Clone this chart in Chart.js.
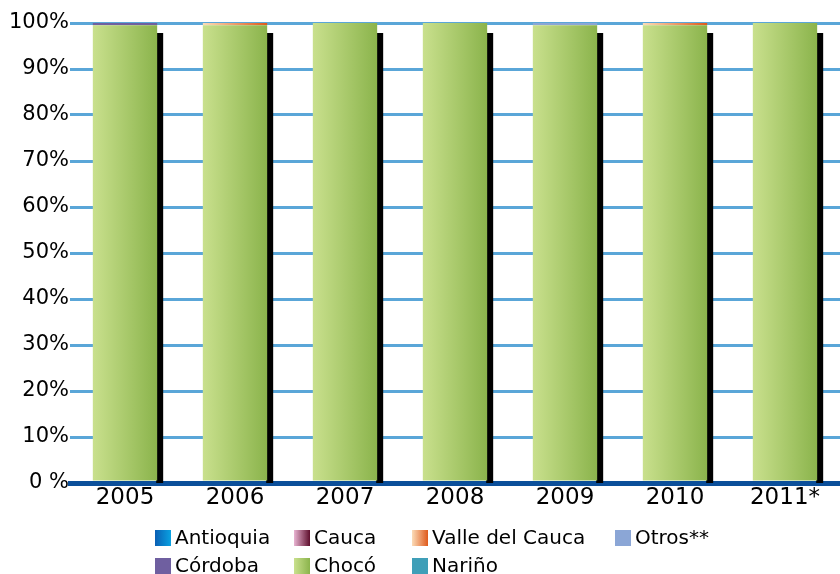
<!DOCTYPE html>
<html>
<head>
<meta charset="utf-8">
<script src="https://cdn.jsdelivr.net/npm/chart.js@4"></script>
<style>
  html, body { margin: 0; padding: 0; background: #fff; }
  #wrap { width: 840px; height: 574px; position: relative; }
</style>
</head>
<body>
<div id="wrap"><canvas id="shareChart"></canvas></div>
<script>
// Participación por departamento (%), 2005 - 2011*
const years = ['2005', '2006', '2007', '2008', '2009', '2010', '2011*'];
const yTickLabels = ['0 %', '10%', '20%', '30%', '40%', '50%', '60%', '70%', '80%', '90%', '100%'];

const choco       = [99.5, 99.5, 100, 100, 99.5, 99.5, 100];
const cordoba     = [0.5, 0, 0, 0, 0, 0, 0];
const valleCauca  = [0, 0.5, 0, 0, 0, 0.5, 0];
const otros       = [0, 0, 0, 0, 0.5, 0, 0];
const antioquia   = [0, 0, 0, 0, 0, 0, 0];
const cauca       = [0, 0, 0, 0, 0, 0, 0];
const narino      = [0, 0, 0, 0, 0, 0, 0];

const legendOrder = ['Antioquia', 'Cauca', 'Valle del Cauca', 'Otros**', 'Córdoba', 'Chocó', 'Nariño'];

const BAR_PCT = 0.585;
const FONT = '"DejaVu Sans", sans-serif';

// colour pairs: left -> right of a horizontal gradient
const palette = {
    'Antioquia':       ['#0a5fb4', '#0aa2e2'],
    'Cauca':           ['#e8b4d2', '#5e0e2c'],
    'Valle del Cauca': ['#fbdcb8', '#df5a1c'],
    'Otros**':         ['#8ba6d6', '#8ba6d6'],
    'Córdoba':         ['#6f5fa0', '#6f5fa0'],
    'Chocó':           ['#c9e08d', '#8bb44c'],
    'Nariño':          ['#3f9fb8', '#3f9fb8']
};

function barFill(name) {
    const [c0, c1] = palette[name];
    return ctx => {
        const chart = ctx.chart;
        const xs = chart.scales.x;
        if (!chart.chartArea || !xs || ctx.dataIndex === undefined) return c1;
        const cx = xs.getPixelForValue(ctx.dataIndex);
        const half = xs.width / years.length * BAR_PCT / 2;
        const g = chart.ctx.createLinearGradient(cx - half, 0, cx + half, 0);
        g.addColorStop(0, c0);
        g.addColorStop(1, c1);
        return g;
    };
}

// stacking order, bottom to top
const series = [
    ['Chocó', choco],
    ['Córdoba', cordoba],
    ['Valle del Cauca', valleCauca],
    ['Otros**', otros],
    ['Antioquia', antioquia],
    ['Cauca', cauca],
    ['Nariño', narino]
];

const shadowPlugin = {
    id: 'barShadow',
    beforeDatasetsDraw(chart) {
        const { ctx, chartArea, scales: { x, y } } = chart;
        const half = x.width / years.length * BAR_PCT / 2;
        const top = y.getPixelForValue(100) + 10;
        ctx.save();
        ctx.fillStyle = '#000';
        years.forEach((_, i) => {
            const cx = x.getPixelForValue(i);
            ctx.fillRect(cx + half - 1, top, 7, chartArea.bottom - top);
        });
        ctx.restore();
    }
};

const legendPlugin = {
    id: 'gridLegend',
    afterDraw(chart) {
        const { ctx } = chart;
        const cols = [155, 294, 412, 615];
        const rows = [538, 566];
        ctx.save();
        ctx.font = '20px ' + FONT;
        ctx.textBaseline = 'middle';
        legendOrder.forEach((name, i) => {
            const bx = cols[i % 4];
            const by = rows[Math.floor(i / 4)];
            const [c0, c1] = palette[name];
            const g = ctx.createLinearGradient(bx, 0, bx + 16, 0);
            g.addColorStop(0, c0);
            g.addColorStop(1, c1);
            ctx.fillStyle = g;
            ctx.fillRect(bx, by - 8, 16, 16);
            ctx.fillStyle = '#000';
            ctx.fillText(name, bx + 20, by + 1);
        });
        ctx.restore();
    }
};

new Chart(document.getElementById('shareChart'), {
    type: 'bar',
    data: {
        labels: years,
        datasets: series.map(([name, values]) => ({
            label: name,
            data: values,
            backgroundColor: barFill(name),
            borderWidth: 0,
            categoryPercentage: 1,
            barPercentage: BAR_PCT
        }))
    },
    options: {
        responsive: true,
        maintainAspectRatio: false,
        animation: false,
        layout: { padding: { top: 23, right: 0, bottom: 61, left: 0 } },
        scales: {
            x: {
                stacked: true,
                z: 1,
                grid: { display: false, drawTicks: false },
                border: { display: true, color: '#0b4f9a', width: 5 },
                ticks: { color: '#000', padding: 1, font: { family: FONT, size: 23 } },
                afterFit: scale => { scale.height = 30; }
            },
            y: {
                stacked: true,
                min: 0,
                max: 100,
                ticks: {
                    stepSize: 10,
                    color: '#000',
                    padding: 1,
                    font: { family: FONT, size: 21 },
                    callback: (value, index) => yTickLabels[index]
                },
                grid: {
                    drawTicks: false,
                    color: ctx => ctx.tick && ctx.tick.value === 0 ? '#0b4f9a' : '#5aa6d8',
                    lineWidth: ctx => ctx.tick && ctx.tick.value === 0 ? 5 : 3
                },
                border: { display: false },
                afterFit: scale => { scale.width = 70; }
            }
        },
        plugins: {
            legend: { display: false },
            tooltip: { enabled: false }
        }
    },
    plugins: [shadowPlugin, legendPlugin]
});
</script>
</body>
</html>
